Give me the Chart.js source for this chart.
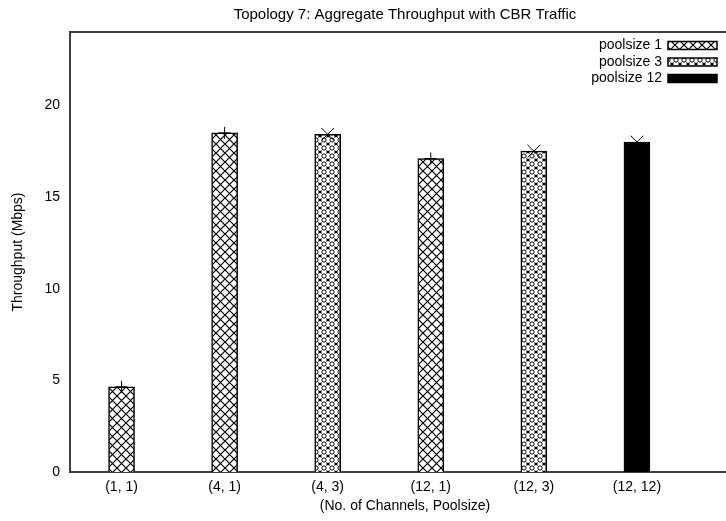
<!DOCTYPE html>
<html>
<head>
<meta charset="utf-8">
<script src="https://cdn.jsdelivr.net/npm/chart.js@4"></script>
<style>
  html, body { margin: 0; padding: 0; background: #fff; overflow: hidden; }
</style>
</head>
<body>
<canvas id="myChart" width="750" height="521"></canvas>
<script>
const categories = ['(1, 1)', '(4, 1)', '(4, 3)', '(12, 1)', '(12, 3)', '(12, 12)'];
const throughput = [4.65, 18.5, 18.42, 17.1, 17.5, 18.0];
const poolsize = [1, 1, 3, 1, 3, 12];
const pools = [1, 3, 12];
const yTicks = [0, 5, 10, 15, 20];

const FONT = 'Liberation Sans';

// hatch fills like the gnuplot patterns
function makePattern(kind) {
    const c = document.createElement('canvas');
    const s = kind === 'cross' ? 9 : 8;
    c.width = s; c.height = s;
    const g = c.getContext('2d');
    g.fillStyle = '#fff';
    g.fillRect(0, 0, s, s);
    g.strokeStyle = '#000';
    if (kind === 'cross') {
        g.lineWidth = 1.2;
        g.beginPath();
        g.moveTo(0, 0); g.lineTo(s, s);
        g.moveTo(0, s); g.lineTo(s, 0);
        g.stroke();
    } else {
        g.lineWidth = 1;
        g.beginPath();
        g.arc(s / 2, s / 2, 2.1, 0, Math.PI * 2);
        g.stroke();
        g.beginPath();
        const d = 1.5;
        g.moveTo(0, d); g.lineTo(d, 0);
        g.moveTo(s - d, 0); g.lineTo(s, d);
        g.moveTo(0, s - d); g.lineTo(d, s);
        g.moveTo(s - d, s); g.lineTo(s, s - d);
        g.moveTo(0, 0); g.lineTo(d, d);
        g.moveTo(s, 0); g.lineTo(s - d, d);
        g.moveTo(0, s); g.lineTo(d, s - d);
        g.moveTo(s, s); g.lineTo(s - d, s - d);
        g.stroke();
    }
    return g.createPattern(c, 'repeat');
}

const ctx = document.getElementById('myChart').getContext('2d');
const fills = [makePattern('cross'), makePattern('dots'), '#000'];
const markers = ['cross', 'crossRot', 'crossRot'];

function pointsFor(p) {
    const out = [];
    categories.forEach((c, i) => {
        if (poolsize[i] === p) out.push({ x: i + 1, y: throughput[i] });
    });
    return out;
}

const barSets = pools.map((p, k) => ({
    type: 'bar',
    label: 'poolsize ' + p,
    data: pointsFor(p),
    backgroundColor: fills[k],
    borderColor: '#000',
    borderWidth: 1.5,
    barThickness: 26,
    grouped: false
}));

const markSets = pools.map((p, k) => ({
    type: 'line',
    label: 'mark ' + p,
    data: pointsFor(p),
    showLine: false,
    pointStyle: markers[k],
    pointRadius: k === 0 ? 6 : 9,
    borderColor: '#000',
    backgroundColor: '#000',
    borderWidth: 1,
    order: -1
}));

// top border of the frame
const frameTop = {
    id: 'frameTop',
    afterDraw(chart) {
        const a = chart.chartArea;
        const c = chart.ctx;
        c.save();
        c.strokeStyle = '#404040';
        c.lineWidth = 2;
        c.beginPath();
        c.moveTo(a.left, a.top);
        c.lineTo(chart.width, a.top);
        c.moveTo(a.right, a.bottom);
        c.lineTo(chart.width, a.bottom);
        c.stroke();
        c.restore();
    }
};

// gnuplot style key: text right aligned, swatch on the right, inside the frame
const keyBox = {
    id: 'keyBox',
    afterDraw(chart) {
        const a = chart.chartArea;
        const c = chart.ctx;
        const right = 717;
        const w = 49, h = 8;
        c.save();
        c.font = '14px "' + FONT + '"';
        c.textAlign = 'right';
        c.textBaseline = 'middle';
        pools.forEach((p, k) => {
            const ds = chart.data.datasets[k];
            const y = a.top + 13.5 + k * 16.5;
            c.fillStyle = '#000';
            c.fillText(ds.label, right - w - 6, y);
            c.fillStyle = ds.backgroundColor;
            c.fillRect(right - w, y - h / 2, w, h);
            c.strokeStyle = '#000';
            c.lineWidth = 1.5;
            c.strokeRect(right - w, y - h / 2, w, h);
        });
        c.restore();
    }
};

const myChart = new Chart(ctx, {
    type: 'bar',
    data: { datasets: barSets.concat(markSets) },
    plugins: [frameTop, keyBox],
    options: {
        responsive: false,
        animation: false,
        plugins: {
            tooltip: { enabled: false },
            legend: { display: false },
            title: {
                display: true,
                text: 'Topology 7: Aggregate Throughput with CBR Traffic',
                fullSize: false,
                color: '#000',
                font: { family: FONT, size: 15, weight: 'normal' },
                padding: { top: 6, bottom: 8 }
            }
        },
        scales: {
            x: {
                type: 'linear',
                offset: false,
                min: 0.5,
                max: 7.0,
                grid: { display: false, drawTicks: false },
                border: { color: '#404040', width: 2 },
                afterBuildTicks: (scale) => {
                    scale.ticks = categories.map((c, i) => ({ value: i + 1 }));
                },
                afterFit: (scale) => {
                    scale.height = 49;
                    scale.paddingRight = 0;
                },
                ticks: {
                    autoSkip: false,
                    maxRotation: 0,
                    padding: 7,
                    color: '#000',
                    font: { family: FONT, size: 14 },
                    callback: (v) => categories[v - 1]
                },
                title: {
                    display: true,
                    text: '(No. of Channels, Poolsize)',
                    color: '#000',
                    font: { family: FONT, size: 14 },
                    padding: { top: 2, bottom: 6 }
                }
            },
            y: {
                min: 0,
                max: 24,
                grid: { display: false, drawTicks: false },
                border: { color: '#404040', width: 2 },
                afterBuildTicks: (scale) => {
                    scale.ticks = yTicks.map(v => ({ value: v }));
                },
                afterFit: (scale) => { scale.width = 70; },
                ticks: {
                    padding: 10,
                    color: '#000',
                    font: { family: FONT, size: 14 }
                },
                title: {
                    display: true,
                    text: 'Throughput (Mbps)',
                    color: '#000',
                    font: { family: FONT, size: 14 },
                    padding: { top: 10, bottom: 4 }
                }
            }
        }
    }
});
</script>
</body>
</html>
